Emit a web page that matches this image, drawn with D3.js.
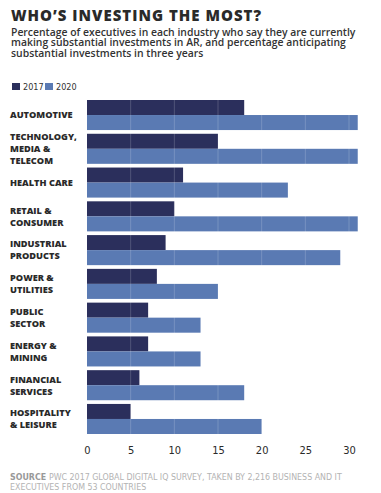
<!DOCTYPE html>
<html>
<head>
<meta charset="utf-8">
<script src="https://cdn.jsdelivr.net/npm/d3@7"></script>
<style>
body { margin: 0; background: #fff; }
svg { display: block; }
</style>
</head>
<body>
<div class="Chart"></div>
<script>
// data
var categories = [
	["AUTOMOTIVE"],
	["TECHNOLOGY,", "MEDIA &", "TELECOM"],
	["HEALTH CARE"],
	["RETAIL &", "CONSUMER"],
	["INDUSTRIAL", "PRODUCTS"],
	["POWER &", "UTILITIES"],
	["PUBLIC", "SECTOR"],
	["ENERGY &", "MINING"],
	["FINANCIAL", "SERVICES"],
	["HOSPITALITY", "& LEISURE"]
];
var years = ["2017", "2020"];
var values2017 = [18, 15, 11, 10, 9, 8, 7, 7, 6, 5];
var values2020 = [31, 31, 23, 31, 29, 15, 13, 13, 18, 20];
var tickValues = [0, 5, 10, 15, 20, 25, 30];

var colors = { "2017": "#2b2f5c", "2020": "#5a7ab3" };
var width = 381, height = 493;
var narrow = "'Liberation Sans Narrow', 'DejaVu Sans Condensed', sans-serif";

var svg = d3.select('.Chart').append('svg')
	.attr('width', width)
	.attr('height', height);

// title + subtitle (one text block)
var subtitle = [
	"Percentage of executives in each industry who say they are currently",
	"making substantial investments in AR, and percentage anticipating",
	"substantial investments in three years"
];
var head = svg.append('text')
	.style('font-family', "'Open Sans', sans-serif")
	.style('fill', '#2a2a2a');
head.append('tspan')
	.attr('x', 11).attr('y', 21)
	.style('font-weight', 800)
	.style('font-size', '15px')
	.style('letter-spacing', '1px')
	.text("WHO\u2019S INVESTING THE MOST?");
head.selectAll('tspan.sub')
	.data(subtitle)
	.enter().append('tspan')
	.attr('class', 'sub')
	.attr('x', 11)
	.attr('y', function(d, i) { return 35.5 + i * 10.7; })
	.style('font-weight', 600)
	.style('font-size', '10.4px')
	.style('fill', '#333')
	.text(function(d) { return d; });

// legend
var legend = svg.append('g').selectAll('g')
	.data(years)
	.enter().append('g')
	.attr('transform', function(d, i) { return 'translate(' + (12 + i * 33) + ',83)'; });
legend.append('rect')
	.attr('width', 8).attr('height', 7)
	.style('fill', function(d) { return colors[d]; });
legend.append('text')
	.attr('x', 11).attr('y', 7)
	.style('font-family', narrow)
	.style('font-size', '9px')
	.style('fill', '#333')
	.text(function(d) { return d; });

// scales
var x = d3.scaleLinear().domain([0, 30]).range([87, 349]);
var y = d3.scaleBand().domain(d3.range(categories.length)).range([100, 434]).paddingInner(0.11);
var ySub = d3.scaleBand().domain(years).range([0, y.bandwidth()]);

var rows = categories.map(function(c, i) {
	return { label: c, vals: [{ year: "2017", v: values2017[i] }, { year: "2020", v: values2020[i] }] };
});

var group = svg.append('g').selectAll('g')
	.data(rows)
	.enter().append('g')
	.attr('transform', function(d, i) { return 'translate(0,' + y(i) + ')'; });

group.selectAll('rect')
	.data(function(d) { return d.vals; })
	.enter().append('rect')
	.attr('x', x(0))
	.attr('y', function(d) { return ySub(d.year); })
	.attr('width', function(d) { return x(d.v) - x(0); })
	.attr('height', ySub.bandwidth())
	.style('fill', function(d) { return colors[d.year]; });

group.append('text')
	.attr('x', 10)
	.attr('y', function(d) { return y.bandwidth() / 2 - (d.label.length - 1) * 6 + 3.3; })
	.style('font-family', "'Open Sans', sans-serif")
	.style('font-weight', 800)
	.style('font-size', '9.2px')
	.style('fill', '#2a2a2a')
	.selectAll('tspan')
	.data(function(d) { return d.label; })
	.enter().append('tspan')
	.attr('x', 10)
	.attr('dy', function(d, i) { return i ? 12 : 0; })
	.text(function(d) { return d; });

// faint gridlines over the bars
svg.append('g').selectAll('line')
	.data(tickValues.slice(1))
	.enter().append('line')
	.attr('x1', function(d) { return x(d); })
	.attr('x2', function(d) { return x(d); })
	.attr('y1', 100).attr('y2', 434)
	.style('stroke', '#fff')
	.style('stroke-opacity', 0.18);

// axis
var axis = svg.append('g')
	.attr('transform', 'translate(0,446)')
	.call(d3.axisBottom(x).tickValues(tickValues).tickSize(0).tickPadding(0));
axis.select('.domain').remove();
axis.selectAll('text')
	.style('font-family', narrow)
	.style('font-size', '11px')
	.style('fill', '#2a2a2a');

// source
var src = svg.append('text')
	.attr('x', 10).attr('y', 480)
	.style('font-family', narrow)
	.style('font-size', '8.8px')
	.style('fill', '#b3b3b3');
src.append('tspan').style('font-weight', 'bold').style('fill', '#999').text('SOURCE ');
src.append('tspan').text('PWC 2017 GLOBAL DIGITAL IQ SURVEY, TAKEN BY 2,216 BUSINESS AND IT');
svg.append('text')
	.attr('x', 10).attr('y', 490)
	.style('font-family', narrow)
	.style('font-size', '8.8px')
	.style('fill', '#b3b3b3')
	.text('EXECUTIVES FROM 53 COUNTRIES');
</script>
</body>
</html>
